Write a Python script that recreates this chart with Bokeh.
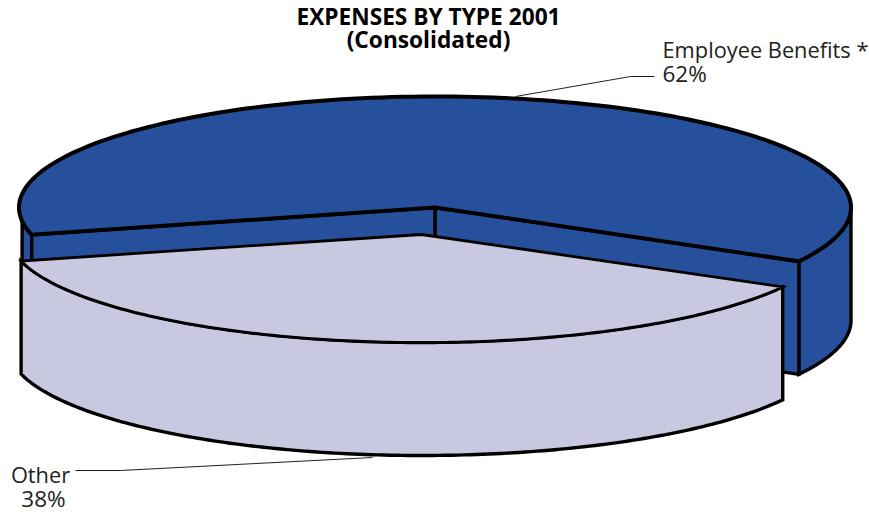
import numpy as np
from bokeh.plotting import figure
from bokeh.models import Range1d
from bokeh.core.properties import value
from bokeh.embed import file_html
from bokeh.resources import INLINE

categories = ["Employee Benefits *", "Other"]
shares = [62, 38]
share_labels = ["62%", "38%"]
title_lines = ["EXPENSES BY TYPE 2001", "(Consolidated)"]

BLUE = "#26509B"
LAV = "#C8C8E1"
FONT = value("Open Sans")
DEPTH = 113.0
START = -29.0
CX, CY, AB, BB = 434.5, 207.0, 416.0, 111.0
OX, OY, AO, BO = 421.0, 234.0, 413.0, 108.0


def arc(cx, cy, a, b, t0, t1, n=160):
    t = np.radians(np.linspace(t0, t1, n))
    return cx + a * np.cos(t), cy - b * np.sin(t)


def shape(p, xs, ys, color, width=3.4):
    p.patch(list(xs), list(ys), fill_color=color, line_color="black",
            line_width=width, line_join="miter")


p = figure(width=869, height=517, x_range=Range1d(0, 869), y_range=Range1d(517, 0),
           output_backend="svg", toolbar_location=None, min_border=0,
           x_axis_type=None, y_axis_type=None, outline_line_color=None)
p.grid.visible = False

t_blue_end = START + 360 * shares[0] / sum(shares)
t_other_end = t_blue_end + 360 * shares[1] / sum(shares)


def wall(cx, cy, a, b, t0, t1):
    x, y = arc(cx, cy, a, b, t0, t1)
    return np.r_[x, x[::-1]], np.r_[y, y[::-1] + DEPTH]


def radial_wall(cx, cy, a, b, t):
    x, y = arc(cx, cy, a, b, t, t, 1)
    return [cx, x[0], x[0], cx], [cy, y[0], y[0] + DEPTH, cy + DEPTH]


# employee benefits: outer walls, inner walls, top
shape(p, *wall(CX, CY, AB, BB, START, 0), BLUE)
shape(p, *wall(CX, CY, AB, BB, 187, t_blue_end), BLUE)
shape(p, *radial_wall(CX, CY, AB, BB, START), BLUE)
shape(p, *radial_wall(CX, CY, AB, BB, t_blue_end), BLUE)
x, y = arc(CX, CY, AB, BB, START, t_blue_end)
shape(p, np.r_[CX, x], np.r_[CY, y], BLUE, 4.0)

# other: outer wall and top
shape(p, *wall(OX, OY, AO, BO, t_blue_end, t_other_end), LAV)
x, y = arc(OX, OY, AO, BO, t_blue_end, t_other_end)
shape(p, np.r_[OX, x], np.r_[OY, y], LAV, 2.8)

# leader lines
p.line([515, 630, 654], [96, 76, 76], line_color="#222222", line_width=1)
p.line([75, 120, 372], [470, 470, 457], line_color="#222222", line_width=1)

# texts
p.text([428, 428], [16, 39], text=title_lines, text_font=FONT, text_font_size="22.7px",
       text_font_style="bold", text_align="center", text_baseline="middle", text_color="black")
p.text([662], [49], text=[categories[0]], text_font=FONT, text_font_size="21.8px",
       text_baseline="middle", text_color="#222222")
p.text([662], [73], text=[share_labels[0]], text_font=FONT, text_font_size="22.5px",
       text_baseline="middle", text_color="#222222")
p.text([40], [474], text=[categories[1]], text_font=FONT, text_font_size="21.8px",
       text_align="center", text_baseline="middle", text_color="#222222")
p.text([43], [498], text=[share_labels[1]], text_font=FONT, text_font_size="22.5px",
       text_align="center", text_baseline="middle", text_color="#222222")

open("out.html", "w").write(file_html(p, INLINE))
